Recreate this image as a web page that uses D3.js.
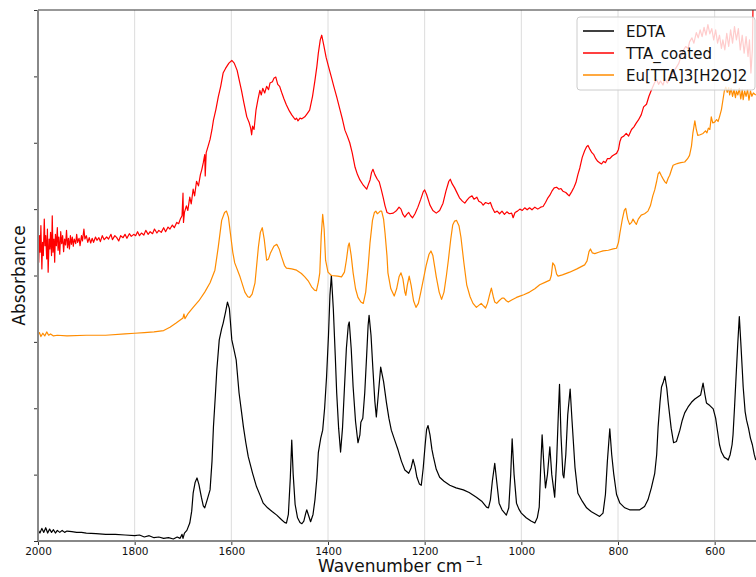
<!DOCTYPE html>
<html>
<head>
<meta charset="utf-8">
<script src="https://cdn.jsdelivr.net/npm/d3@7"></script>
<style>
  html, body { margin: 0; padding: 0; background: #fff; }
  svg { display: block; font-family: "DejaVu Sans", sans-serif; }
</style>
</head>
<body>
<svg id="chart" width="756" height="577"></svg>
<script>
// spectra: [wavenumber cm-1, absorbance (offset, a.u.)]
const edta = [
  [2000,0.17],[1996,0.12],[1992,0.19],[1988,0.13],[1984,0.2],[1980,0.12],[1976,0.18],[1972,0.13],
  [1968,0.17],[1964,0.12],[1960,0.16],[1955,0.13],[1950,0.16],[1945,0.13],[1940,0.15],[1930,0.14],
  [1920,0.13],[1910,0.13],[1900,0.12],[1880,0.11],[1860,0.1],[1840,0.1],[1820,0.09],[1800,0.08],
  [1790,0.09],[1780,0.06],[1770,0.08],[1760,0.05],[1750,0.06],[1740,0.04],[1730,0.05],[1720,0.03],
  [1712,0.06],[1706,0.04],[1702,0.1],[1700,0.04],[1697,0.12],[1692,0.16],[1686,0.27],[1682,0.45],
  [1679,0.72],[1675,0.88],[1671,0.95],[1667,0.85],[1662,0.66],[1658,0.53],[1655,0.5],[1650,0.62],
  [1644,0.77],[1640,1.2],[1637,1.72],[1633,2.2],[1630,2.58],[1625,3.03],[1620,3.2],[1617,3.28],
  [1612,3.45],[1608,3.6],[1604,3.5],[1599,3.03],[1595,2.9],[1590,2.73],[1584,2.23],[1579,1.95],
  [1575,1.72],[1570,1.48],[1565,1.27],[1556,1.02],[1548,0.82],[1540,0.68],[1534,0.57],[1525,0.5],
  [1515,0.44],[1506,0.39],[1496,0.32],[1490,0.28],[1486,0.27],[1482,0.4],[1478,0.95],[1475,1.52],
  [1472,1.0],[1468,0.55],[1463,0.35],[1458,0.28],[1454,0.26],[1450,0.3],[1446,0.42],[1444,0.47],
  [1440,0.38],[1436,0.29],[1431,0.4],[1427,0.62],[1423,0.95],[1420,1.33],[1415,1.55],[1411,1.67],
  [1407,2.0],[1403,2.47],[1399,3.1],[1396,3.7],[1393,4.0],[1389,3.5],[1385,2.8],[1382,2.23],
  [1378,1.7],[1374,1.34],[1370,1.7],[1366,2.3],[1362,2.9],[1358,3.25],[1356,3.3],[1352,2.9],
  [1348,2.32],[1343,1.8],[1338,1.48],[1334,1.6],[1332,1.79],[1328,1.85],[1324,2.23],[1320,2.8],
  [1317,3.25],[1315,3.4],[1311,3.1],[1307,2.58],[1303,2.1],[1300,1.87],[1296,2.2],[1291,2.62],
  [1285,2.4],[1279,2.08],[1274,1.85],[1269,1.67],[1262,1.52],[1255,1.37],[1248,1.2],[1241,1.07],
  [1233,1.02],[1228,1.1],[1224,1.23],[1220,1.12],[1216,0.96],[1211,0.86],[1207,0.84],[1203,1.1],
  [1199,1.45],[1196,1.68],[1193,1.74],[1189,1.6],[1185,1.38],[1182,1.27],[1176,1.08],[1169,0.96],
  [1160,0.9],[1148,0.84],[1135,0.8],[1120,0.77],[1108,0.73],[1093,0.66],[1082,0.6],[1072,0.51],
  [1068,0.5],[1064,0.62],[1060,0.9],[1055,1.17],[1051,0.9],[1046,0.57],[1040,0.47],[1031,0.39],
  [1026,0.5],[1022,1.0],[1019,1.54],[1015,1.0],[1010,0.57],[1005,0.48],[1000,0.42],[990,0.35],
  [980,0.3],[972,0.27],[967,0.35],[963,0.51],[960,1.1],[957,1.6],[953,1.1],[950,0.8],[946,1.0],
  [941,1.42],[937,1.0],[931,0.66],[927,1.2],[923,2.0],[921,2.36],[918,1.6],[914,1.0],[912,0.95],
  [908,1.3],[904,1.9],[899,2.29],[895,1.8],[889,1.11],[883,0.72],[874,0.6],[865,0.5],[855,0.44],
  [845,0.4],[838,0.37],[831,0.42],[826,0.7],[822,1.2],[817,1.69],[813,1.3],[809,1.02],[803,0.7],
  [796,0.57],[786,0.5],[776,0.47],[765,0.47],[755,0.47],[745,0.52],[738,0.62],[731,0.8],[724,1.02],
  [720,1.3],[717,1.72],[713,2.1],[710,2.32],[706,2.4],[703,2.48],[699,2.3],[696,2.08],[690,1.7],
  [685,1.48],[679,1.5],[672,1.67],[667,1.82],[662,1.93],[655,2.02],[648,2.09],[641,2.14],[635,2.17],
  [629,2.2],[624,2.38],[620,2.2],[617,2.08],[610,2.04],[603,1.99],[598,1.85],[594,1.65],[590,1.45],
  [586,1.34],[580,1.26],[575,1.24],[572,1.22],[568,1.3],[564,1.45],[562,1.6],[559,2.0],[555,2.58],
  [552,3.0],[549,3.38],[546,3.0],[543,2.6],[541,2.32],[537,1.95],[534,1.82],[530,1.7],[526,1.55],
  [522,1.45],[518,1.3],[515,1.22]
];

const ttaCoated = [
  [2000,4.42],[1998.5,4.2],[1997,4.6],[1995.5,4.35],[1994,4.75],[1992,4.1],[1990.5,4.5],[1989,4.3],
  [1987,4.85],[1985.5,4.45],[1984,4.6],[1982,4.25],[1980.5,4.7],[1979,4.05],[1977,4.55],[1975.5,4.4],
  [1974,4.65],[1972,4.3],[1970.5,4.9],[1969,4.35],[1967,4.55],[1965.5,4.2],[1964,4.62],[1962,4.45],
  [1960,4.72],[1958.5,4.38],[1957,4.58],[1955,4.32],[1953,4.66],[1951,4.48],[1949,4.6],[1947,4.36],
  [1945,4.55],[1943,4.46],[1941,4.68],[1939,4.42],[1937,4.56],[1935,4.4],[1933,4.6],[1931,4.47],
  [1929,4.58],[1927,4.44],[1925,4.55],[1922,4.48],[1920,4.62],[1918,4.5],[1915,4.56],[1913,4.45],
  [1910,4.6],[1908,4.52],[1905,4.7],[1903,4.55],[1900,4.6],[1897,4.5],[1894,4.57],[1891,4.49],
  [1888,4.56],[1885,4.5],[1881,4.58],[1878,4.53],[1874,4.57],[1871,4.51],[1867,4.6],[1863,4.54],
  [1858,4.58],[1854,4.55],[1849,4.62],[1846,4.54],[1841,4.6],[1837,4.57],[1833,4.52],[1829,4.6],
  [1824,4.57],[1820,4.62],[1816,4.56],[1811,4.63],[1807,4.59],[1802,4.62],[1798,4.6],[1794,4.66],
  [1790,4.6],[1786,4.64],[1781,4.61],[1777,4.68],[1772,4.62],[1768,4.66],[1763,4.63],[1759,4.7],
  [1754,4.64],[1750,4.68],[1745,4.65],[1740,4.72],[1736,4.66],[1731,4.73],[1727,4.7],[1722,4.76],
  [1718,4.72],[1713,4.8],[1709,4.78],[1705,4.86],[1702,4.9],[1700,5.24],[1699,4.8],[1697,4.95],
  [1693,5.05],[1690,4.98],[1686,5.18],[1683,5.08],[1679,5.3],[1676,5.2],[1672,5.42],[1668,5.35],
  [1664,5.52],[1661,5.6],[1658,5.7],[1655,5.82],[1654,5.5],[1652,5.85],[1648,5.95],[1644,6.05],
  [1640,6.2],[1637,6.34],[1632,6.5],[1627,6.69],[1622,6.85],[1617,7.05],[1612,7.12],[1605,7.2],
  [1599,7.24],[1594,7.2],[1588,7.09],[1583,6.92],[1579,6.79],[1574,6.6],[1568,6.39],[1563,6.3],
  [1560,6.22],[1558,6.12],[1556,6.25],[1553,6.2],[1549,6.49],[1545,6.65],[1541,6.79],[1538,6.72],
  [1535,6.82],[1531,6.75],[1527,6.85],[1523,6.8],[1520,6.9],[1515,6.92],[1512,6.97],[1508,6.99],
  [1504,6.88],[1500,6.85],[1496,6.76],[1491,6.66],[1486,6.57],[1480,6.48],[1475,6.42],[1472,6.39],
  [1468,6.35],[1465,6.37],[1462,6.33],[1458,6.37],[1454,6.36],[1448,6.39],[1443,6.44],[1438,6.49],
  [1432,6.7],[1427,6.94],[1423,7.15],[1420,7.35],[1416,7.55],[1413,7.62],[1409,7.48],[1404,7.29],
  [1399,7.15],[1393,6.99],[1388,6.85],[1382,6.69],[1375,6.49],[1370,6.35],[1365,6.19],[1360,6.1],
  [1355,6.0],[1350,5.85],[1344,5.63],[1339,5.52],[1334,5.44],[1327,5.36],[1320,5.3],[1316,5.38],
  [1313,5.44],[1310,5.55],[1307,5.6],[1303,5.52],[1298,5.45],[1294,5.41],[1290,5.3],[1286,5.18],
  [1282,5.05],[1278,4.95],[1272,4.93],[1265,4.94],[1258,4.98],[1253,5.03],[1249,5.0],[1245,4.92],
  [1241,4.88],[1237,4.92],[1233,4.95],[1229,4.9],[1225,4.87],[1220,4.93],[1214,5.03],[1208,5.15],
  [1203,5.26],[1200,5.29],[1196,5.22],[1189,5.06],[1183,4.98],[1176,4.94],[1169,4.98],[1162,5.09],
  [1156,5.27],[1150,5.42],[1147,5.45],[1143,5.38],[1138,5.32],[1134,5.26],[1128,5.17],[1122,5.12],
  [1117,5.09],[1112,5.14],[1107,5.18],[1102,5.2],[1098,5.15],[1092,5.18],[1088,5.12],[1083,5.1],
  [1079,5.06],[1074,5.1],[1068,5.08],[1064,5.1],[1060,5.02],[1055,4.95],[1050,4.97],[1045,4.93],
  [1040,4.97],[1035,4.92],[1030,4.96],[1025,4.93],[1020,4.94],[1017,4.87],[1013,4.95],[1008,4.97],
  [1003,5.0],[998,4.98],[993,5.02],[988,4.99],[983,5.02],[978,4.99],[972,5.03],[966,5.0],[960,5.03],
  [955,5.04],[950,5.1],[945,5.17],[941,5.21],[936,5.28],[932,5.32],[927,5.33],[922,5.3],[918,5.31],
  [914,5.27],[908,5.25],[904,5.22],[901,5.2],[896,5.26],[891,5.33],[887,5.4],[883,5.52],[879,5.62],
  [874,5.78],[869,5.88],[865,5.94],[862,5.96],[858,5.9],[854,5.85],[850,5.82],[846,5.76],[842,5.72],
  [838,5.7],[834,5.68],[830,5.72],[826,5.7],[822,5.76],[817,5.76],[812,5.8],[808,5.82],[803,5.84],
  [799,5.9],[796,6.02],[793,6.08],[788,6.1],[783,6.14],[778,6.1],[772,6.2],[767,6.24],[762,6.3],
  [758,6.34],[752,6.42],[747,6.54],[741,6.58],[736,6.7],[731,6.79],[727,6.86],[724,6.91],[720,6.95],
  [716,6.88],[712,6.93],[707,6.87],[703,6.96],[698,6.9],[693,6.96],[688,7.02],[684,7.08],[679,7.14],
  [674,7.2],[670,7.3],[665,7.39],[660,7.45],[655,7.42],[652,7.52],[647,7.58],[643,7.5],[638,7.66],
  [634,7.58],[630,7.7],[626,7.6],[622,7.74],[618,7.62],[614,7.78],[610,7.64],[606,7.72],[602,7.55],
  [598,7.7],[594,7.5],[590,7.62],[586,7.42],[583,7.55],[579,7.4],[575,7.65],[571,7.45],[567,7.7],
  [563,7.5],[559,7.75],[555,7.55],[551,7.72],[547,7.4],[543,7.62],[539,7.35],[535,7.6],[531,7.3],
  [528,7.55],[525,7.05],[522,7.4],[520,8.4]
];

const euTTA = [
  [2000,3.1],[1997,3.14],[1994,3.08],[1990,3.13],[1986,3.09],[1982,3.15],[1978,3.1],[1974,3.12],
  [1968,3.09],[1960,3.1],[1940,3.09],[1900,3.1],[1860,3.1],[1820,3.12],[1800,3.13],[1780,3.14],
  [1760,3.15],[1740,3.17],[1727,3.22],[1715,3.28],[1700,3.36],[1698,3.42],[1696,3.35],[1690,3.42],
  [1679,3.52],[1667,3.62],[1655,3.75],[1644,3.89],[1634,4.08],[1627,4.43],[1620,4.83],[1614,4.95],
  [1610,4.97],[1606,4.88],[1602,4.64],[1597,4.35],[1593,4.19],[1582,3.98],[1572,3.75],[1566,3.68],
  [1562,3.67],[1557,3.72],[1551,3.89],[1544,4.43],[1540,4.65],[1536,4.72],[1532,4.55],[1527,4.23],
  [1523,4.25],[1519,4.34],[1512,4.44],[1506,4.47],[1501,4.4],[1496,4.28],[1490,4.15],[1486,4.11],
  [1475,4.1],[1465,4.08],[1455,4.03],[1448,3.98],[1441,3.92],[1434,3.83],[1428,3.78],[1424,3.77],
  [1420,3.9],[1417,4.04],[1414,4.6],[1411,4.92],[1408,4.7],[1405,4.23],[1400,4.05],[1393,4.0],
  [1380,3.99],[1372,3.98],[1366,4.05],[1362,4.23],[1358,4.45],[1356,4.49],[1352,4.3],[1348,4.04],
  [1343,3.8],[1338,3.67],[1332,3.6],[1327,3.58],[1322,3.75],[1317,4.13],[1313,4.5],[1308,4.83],
  [1304,4.95],[1301,4.97],[1298,4.93],[1296,4.94],[1292,4.97],[1289,4.97],[1285,4.85],[1282,4.64],
  [1278,4.3],[1276,4.04],[1270,3.8],[1263,3.69],[1258,3.8],[1253,3.98],[1249,4.04],[1245,3.95],
  [1241,3.75],[1239,3.7],[1236,3.85],[1232,3.99],[1228,3.85],[1223,3.62],[1218,3.52],[1213,3.58],
  [1208,3.75],[1203,3.93],[1197,4.15],[1191,4.32],[1187,4.37],[1183,4.3],[1179,4.12],[1176,3.98],
  [1170,3.75],[1165,3.64],[1160,3.75],[1155,4.0],[1151,4.23],[1146,4.55],[1142,4.76],[1138,4.82],
  [1134,4.83],[1129,4.75],[1125,4.58],[1119,4.2],[1113,3.86],[1106,3.68],[1100,3.58],[1093,3.52],
  [1088,3.55],[1083,3.58],[1078,3.54],[1074,3.51],[1070,3.58],[1066,3.7],[1062,3.81],[1058,3.68],
  [1055,3.6],[1051,3.58],[1046,3.62],[1040,3.66],[1036,3.66],[1031,3.62],[1027,3.6],[1020,3.63],
  [1010,3.67],[1003,3.69],[995,3.71],[983,3.75],[972,3.8],[962,3.86],[950,3.9],[941,3.93],[938,4.0],
  [935,4.19],[931,4.15],[927,4.02],[924,3.99],[915,4.01],[900,4.05],[885,4.1],[869,4.16],[864,4.22],
  [860,4.36],[857,4.4],[853,4.34],[848,4.33],[840,4.35],[831,4.37],[820,4.38],[810,4.4],[803,4.41],
  [799,4.5],[796,4.64],[791,4.85],[787,4.98],[784,5.01],[780,4.85],[776,4.77],[772,4.8],[769,4.85],
  [765,4.8],[762,4.77],[758,4.85],[755,4.88],[752,4.91],[745,4.93],[738,4.97],[733,5.05],[728,5.2],
  [724,5.29],[720,5.42],[717,5.53],[714,5.56],[710,5.5],[707,5.46],[703,5.41],[700,5.39],[696,5.47],
  [693,5.51],[689,5.6],[686,5.66],[680,5.68],[676,5.69],[670,5.7],[662,5.71],[656,5.76],[652,5.81],
  [648,5.95],[645,6.15],[641,6.33],[638,6.2],[635,6.11],[630,6.12],[624,6.14],[619,6.18],[616,6.15],
  [613,6.22],[610,6.2],[607,6.39],[604,6.3],[600,6.31],[596,6.35],[593,6.32],[590,6.39],[586,6.5],
  [583,6.64],[580,6.78],[577,6.84],[574,6.76],[571,6.83],[569,6.72],[566,6.82],[563,6.7],[560,6.8],
  [557,6.68],[555,6.78],[552,6.72],[549,6.82],[546,6.66],[543,6.8],[541,6.65],[538,6.78],[535,6.7],
  [532,6.8],[529,6.64],[526,6.78],[523,6.7],[520,6.75],[515,6.72]
];

const seriesNames = ["EDTA", "TTA_coated", "Eu[TTA]3[H2O]2"];
const seriesColors = ["#000000", "#ff0000", "#ff8c00"];
const xTicks = [2000, 1800, 1600, 1400, 1200, 1000, 800, 600];
const yTicks = [0, 1, 2, 3, 4, 5, 6, 7, 8];

const MARGIN = { left: 38, top: 10, right: 763, bottom: 541 };

const svg = d3.select("#chart");

const x = d3.scaleLinear().domain([2000, 500]).range([MARGIN.left, MARGIN.right]);
const y = d3.scaleLinear().domain([0, 8]).range([MARGIN.bottom, MARGIN.top]);

svg.append("defs").append("clipPath").attr("id", "plotClip")
  .append("rect")
  .attr("x", MARGIN.left).attr("y", MARGIN.top)
  .attr("width", MARGIN.right - MARGIN.left)
  .attr("height", MARGIN.bottom - MARGIN.top);

// vertical grid
svg.append("g")
  .selectAll("line")
  .data(xTicks)
  .join("line")
  .attr("x1", (d) => x(d)).attr("x2", (d) => x(d))
  .attr("y1", MARGIN.top).attr("y2", MARGIN.bottom)
  .attr("stroke", "#dcdcdc")
  .attr("stroke-width", 1);

// spectra
const line = d3.line().x((d) => x(d[0])).y((d) => y(d[1]));

svg.append("g")
  .attr("clip-path", "url(#plotClip)")
  .selectAll("path")
  .data([edta, ttaCoated, euTTA])
  .join("path")
  .attr("fill", "none")
  .attr("stroke", (d, i) => seriesColors[i])
  .attr("stroke-width", 1.2)
  .attr("stroke-linejoin", "round")
  .attr("d", line);

// axes
svg.append("g")
  .attr("transform", `translate(0,${MARGIN.bottom})`)
  .call(d3.axisBottom(x).tickValues(xTicks).tickFormat(d3.format("d")).tickSize(4).tickPadding(3))
  .call((g) => g.select(".domain").remove())
  .call((g) => g.selectAll(".tick line").attr("stroke", "#333"))
  .call((g) => g.selectAll(".tick text")
    .attr("font-family", "DejaVu Sans, sans-serif")
    .attr("font-size", 10.5)
    .attr("fill", "#111"));

svg.append("g")
  .attr("transform", `translate(${MARGIN.left},0)`)
  .call(d3.axisLeft(y).tickValues(yTicks).tickSize(4).tickFormat(""))
  .call((g) => g.select(".domain").remove())
  .call((g) => g.selectAll(".tick line").attr("stroke", "#333"));

// spines
svg.append("line")
  .attr("x1", MARGIN.left).attr("x2", MARGIN.right)
  .attr("y1", MARGIN.top).attr("y2", MARGIN.top)
  .attr("stroke", "#333").attr("stroke-width", 1.2);
svg.append("line")
  .attr("x1", MARGIN.left).attr("x2", MARGIN.right)
  .attr("y1", MARGIN.bottom).attr("y2", MARGIN.bottom)
  .attr("stroke", "#888").attr("stroke-width", 2);
svg.append("line")
  .attr("x1", MARGIN.left).attr("x2", MARGIN.left)
  .attr("y1", MARGIN.top).attr("y2", MARGIN.bottom)
  .attr("stroke", "#888").attr("stroke-width", 2);

// axis labels
const xLabel = svg.append("text")
  .attr("x", (MARGIN.left + MARGIN.right) / 2)
  .attr("y", 572)
  .attr("text-anchor", "middle")
  .attr("font-size", 17)
  .attr("fill", "#111");
xLabel.append("tspan").text("Wavenumber cm");
xLabel.append("tspan").attr("font-size", 12).attr("dx", 3).attr("dy", -7).text("\u22121");

svg.append("text")
  .attr("transform", `translate(25,${(MARGIN.top + MARGIN.bottom) / 2}) rotate(-90)`)
  .attr("text-anchor", "middle")
  .attr("font-size", 17)
  .attr("fill", "#111")
  .text("Absorbance");

// legend
const legend = svg.append("g").attr("transform", "translate(577,17)");
legend.append("rect")
  .attr("width", 178).attr("height", 73).attr("rx", 3)
  .attr("fill", "#fff").attr("fill-opacity", 0.8)
  .attr("stroke", "#cccccc");
const rows = legend.selectAll("g.row")
  .data(seriesNames)
  .join("g")
  .attr("class", "row")
  .attr("transform", (d, i) => `translate(0,${14 + i * 22})`);
rows.append("line")
  .attr("x1", 6).attr("x2", 37)
  .attr("stroke", (d, i) => seriesColors[i])
  .attr("stroke-width", 1.5);
rows.append("text")
  .attr("x", 49).attr("y", 5.5)
  .attr("font-size", 15)
  .attr("fill", "#111")
  .text((d) => d);
</script>
</body>
</html>
